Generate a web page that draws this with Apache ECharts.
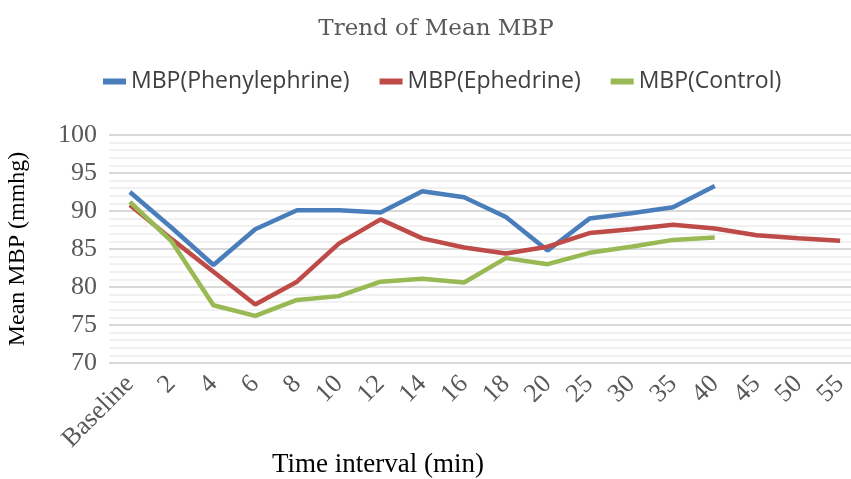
<!DOCTYPE html>
<html><head><meta charset="utf-8">
<script src="https://cdn.jsdelivr.net/npm/echarts@6/dist/echarts.min.js"></script>
<style>html,body{margin:0;padding:0;background:#fff}#c{width:851px;height:479px}</style>
</head><body><div id="c"></div>
<script>
const categories = ['Baseline','2','4','6','8','10','12','14','16','18','20','25','30','35','40','45','50','55'];
const phenylephrine = [92.5, 87.8, 82.9, 87.6, 90.1, 90.1, 89.8, 92.6, 91.8, 89.2, 84.8, 89.0, 89.7, 90.5, 93.3, null, null, null];
const ephedrine = [90.8, 86.3, 82.0, 77.7, 80.7, 85.7, 88.9, 86.4, 85.2, 84.4, 85.3, 87.1, 87.6, 88.2, 87.7, 86.8, 86.4, 86.1];
const control = [91.2, 86.0, 77.6, 76.2, 78.3, 78.8, 80.7, 81.1, 80.6, 83.8, 83.0, 84.5, 85.3, 86.2, 86.5, null, null, null];
const yTicks = [70, 75, 80, 85, 90, 95, 100];

const serif = '"Liberation Serif", "Times New Roman", serif';
const titleFont = '"DejaVu Serif", serif';
const sans = '"Open Sans", Lato, sans-serif';
const chart = echarts.init(document.getElementById('c'));
const mk = (name, data, color) => ({
  name, type: 'line', data, symbol: 'none', connectNulls: false,
  lineStyle: { width: 4.5, color }, itemStyle: { color }
});
chart.setOption({
  animation: false,
  title: { text: 'Trend of Mean MBP', left: 431, top: 13, textAlign: 'center',
    textStyle: { fontFamily: titleFont, fontSize: 23, fontWeight: 'normal', color: '#595959' } },
  legend: { top: 65, left: 98, itemWidth: 23, itemHeight: 6, itemGap: 30, icon: 'rect',
    textStyle: { fontFamily: sans, fontSize: 23, color: '#404040' } },
  grid: { left: 109, top: 135, width: 752, bottom: 116, containLabel: false, outerBoundsMode: 'none' },
  xAxis: { type: 'category', data: categories, boundaryGap: true,
    axisLine: { show: false }, axisTick: { show: false },
    axisLabel: { rotate: 45, interval: 0, fontFamily: serif, fontSize: 26, color: '#595959', margin: 17 } },
  yAxis: { type: 'value', min: yTicks[0], max: yTicks[yTicks.length-1], interval: 5,
    name: 'Mean MBP (mmhg)', nameLocation: 'middle', nameGap: 79,
    nameTextStyle: { fontFamily: serif, fontSize: 24, color: '#000' },
    axisLine: { show: false }, axisTick: { show: false },
    axisLabel: { fontFamily: serif, fontSize: 26, color: '#595959', margin: 12 },
    splitLine: { lineStyle: { color: '#d9d9d9', width: 2 } },
    minorTick: { show: false, splitNumber: 5 },
    minorSplitLine: { show: true, lineStyle: { color: '#ededed', width: 1.5 } } },
  graphic: [{ type: 'text', left: 272, top: 451,
    style: { text: 'Time interval (min)', fontFamily: serif, fontSize: 27, fill: '#000' } }],
  series: [
    mk('MBP(Phenylephrine)', phenylephrine, '#4a7ebb'),
    mk('MBP(Ephedrine)', ephedrine, '#be4b48'),
    mk('MBP(Control)', control, '#98b954')
  ]
});
</script></body></html>
